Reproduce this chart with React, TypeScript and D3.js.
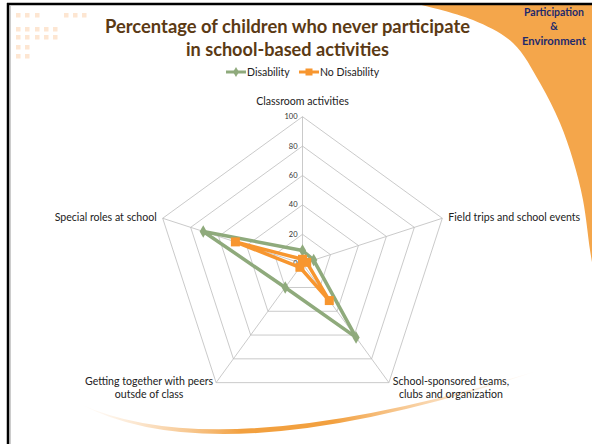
import * as d3 from "d3";
import React from "react";

const width = 592;
const height = 444;

const categories = [
  ["Classroom activities"],
  ["Field trips and school events"],
  ["School-sponsored teams,", "clubs and organization"],
  ["Getting together with peers", "outsde of class"],
  ["Special roles at school"],
];
const disability = [9, 8, 62, 20, 71];
const noDisability = [3, 3, 31, 3, 48];
const ticks = [0, 20, 40, 60, 80, 100];

const cx = 302.5;
const cy = 263.7;
const radius = 147;

const green = "#8faa7c";
const orange = "#f7962f";
const titleColor = "#5b3a14";
const font = "Lato, 'Open Sans', sans-serif";

const r = d3.scaleLinear().domain([0, 100]).range([0, radius]);
const angle = d3
  .scaleLinear()
  .domain([0, categories.length])
  .range([0, 2 * Math.PI]);

const pt = (i: number, v: number): [number, number] => [
  Math.sin(angle(i)) * r(v),
  -Math.cos(angle(i)) * r(v),
];

const radial = d3
  .lineRadial<number>()
  .angle((_, i) => angle(i))
  .radius((d) => r(d))
  .curve(d3.curveLinearClosed);

// decoration: orange swoosh in the top right corner
const swoosh = d3.line().curve(d3.curveCatmullRom)([
  [417, 4],
  [473, 20],
  [513, 43],
  [540, 83],
  [560, 123],
  [573, 160],
  [583, 200],
  [590, 250],
  [592, 262],
]);

const squares: [number, number][] = [
  [16, 13], [25, 13], [35, 13], [64, 13], [73, 13], [82, 13],
  [16, 27], [25, 27], [35, 27], [44, 27], [53, 27],
  [16, 35], [25, 35], [35, 35], [44, 35], [53, 35],
  [16, 45], [25, 45],
  [16, 54], [25, 54],
];

const labelPos = [
  { dx: 0, dy: -12, anchor: "middle" },
  { dx: 6, dy: 3, anchor: "start" },
  { dx: 62, dy: 2, anchor: "middle" },
  { dx: -67, dy: 2, anchor: "middle" },
  { dx: -6, dy: 3, anchor: "end" },
];

export default function App() {
  return (
    <div style={{ position: "absolute", left: 0, top: 0 }}>
      <svg width={width} height={height} style={{ display: "block" }}>
        <defs>
          <linearGradient id="arcGrad" x1="0" x2="1" y1="0" y2="0">
            <stop offset="0" stopColor="#f7c795" stopOpacity={0} />
            <stop offset="0.35" stopColor="#f2a03f" stopOpacity={1} />
            <stop offset="0.55" stopColor="#f2a03f" stopOpacity={1} />
            <stop offset="1" stopColor="#f7c795" stopOpacity={0} />
          </linearGradient>
        </defs>
        <rect width={width} height={height} fill="#fff" />
        <path d={`${swoosh} L592 4 Z`} fill="#f4a64b" />
        <path
          d="M80 404 Q220 478 540 370 Q220 468 80 404 Z"
          fill="url(#arcGrad)"
        />
        {squares.map(([x, y], i) => (
          <rect key={i} x={x} y={y} width={4.5} height={4.5} fill="#fde6d2" />
        ))}
        <line x1={7} y1={4} x2={592} y2={4} stroke="#000" strokeWidth={2.5} />
        <line x1={8} y1={3} x2={8} y2={444} stroke="#000" strokeWidth={2.5} />
        <line x1={10} y1={6} x2={10} y2={444} stroke="#999" strokeWidth={1} />

        <g fill="#1f2a6b" fontFamily="'Comic Sans MS', Lato, sans-serif" fontWeight="bold" fontSize={10.5} textAnchor="middle">
          <text x={554} y={16} textLength={60} lengthAdjust="spacingAndGlyphs">Participation</text>
          <text x={554} y={30}>&amp;</text>
          <text x={554} y={45} textLength={64} lengthAdjust="spacingAndGlyphs">Environment</text>
        </g>

        <g fill={titleColor} fontFamily={font} fontWeight="bold" fontSize={18} textAnchor="middle">
          <text x={287.5} y={33} textLength={365} lengthAdjust="spacingAndGlyphs">
            Percentage of children who never participate
          </text>
          <text x={287.5} y={56} textLength={203} lengthAdjust="spacingAndGlyphs">
            in school-based activities
          </text>
        </g>

        <g fontFamily={font} fontSize={10.5} fill="#222">
          <line x1={226} y1={72} x2={246} y2={72} stroke={green} strokeWidth={3} />
          <path d={d3.symbol(d3.symbolDiamond, 30)()!} transform="translate(236,72)" fill={green} />
          <text x={247} y={75.5}>Disability</text>
          <line x1={299} y1={72} x2={319} y2={72} stroke={orange} strokeWidth={3} />
          <rect x={305.5} y={68.5} width={7} height={7} fill={orange} />
          <text x={320} y={75.5}>No Disability</text>
        </g>

        <g transform={`translate(${cx},${cy})`}>
          {ticks.slice(1).map((t) => (
            <path
              key={t}
              d={radial(categories.map(() => t))!}
              fill="none"
              stroke="#bdbdbd"
              strokeWidth={0.8}
            />
          ))}
          {categories.map((_, i) => {
            const [x, y] = pt(i, 100);
            return <line key={i} x1={0} y1={0} x2={x} y2={y} stroke="#bdbdbd" strokeWidth={0.8} />;
          })}
          {ticks.map((t) => (
            <text
              key={t}
              x={-5}
              y={-r(t) + 2.5}
              textAnchor="end"
              fontFamily={font}
              fontSize={7.5}
              fill="#333"
            >
              {t}
            </text>
          ))}
          {categories.map((lines, i) => {
            const [x, y] = pt(i, 100);
            const p = labelPos[i];
            return (
              <text
                key={i}
                x={x + p.dx}
                y={y + p.dy}
                textAnchor={p.anchor}
                fontFamily={font}
                fontSize={10.6}
                fill="#222"
              >
                {lines.map((l, j) => (
                  <tspan key={j} x={x + p.dx} dy={j === 0 ? 0 : 13}>
                    {l}
                  </tspan>
                ))}
              </text>
            );
          })}

          <path d={radial(disability)!} fill="none" stroke={green} strokeWidth={3.5} strokeLinejoin="round" />
          <path d={radial(noDisability)!} fill="none" stroke={orange} strokeWidth={3.5} strokeLinejoin="round" />
          {disability.map((v, i) => {
            const [x, y] = pt(i, v);
            return (
              <path key={i} d={d3.symbol(d3.symbolDiamond, 45)()!} transform={`translate(${x},${y})`} fill={green} />
            );
          })}
          {noDisability.map((v, i) => {
            const [x, y] = pt(i, v);
            return <rect key={i} x={x - 4.5} y={y - 4.5} width={9} height={9} fill={orange} />;
          })}
        </g>
      </svg>
    </div>
  );
}
